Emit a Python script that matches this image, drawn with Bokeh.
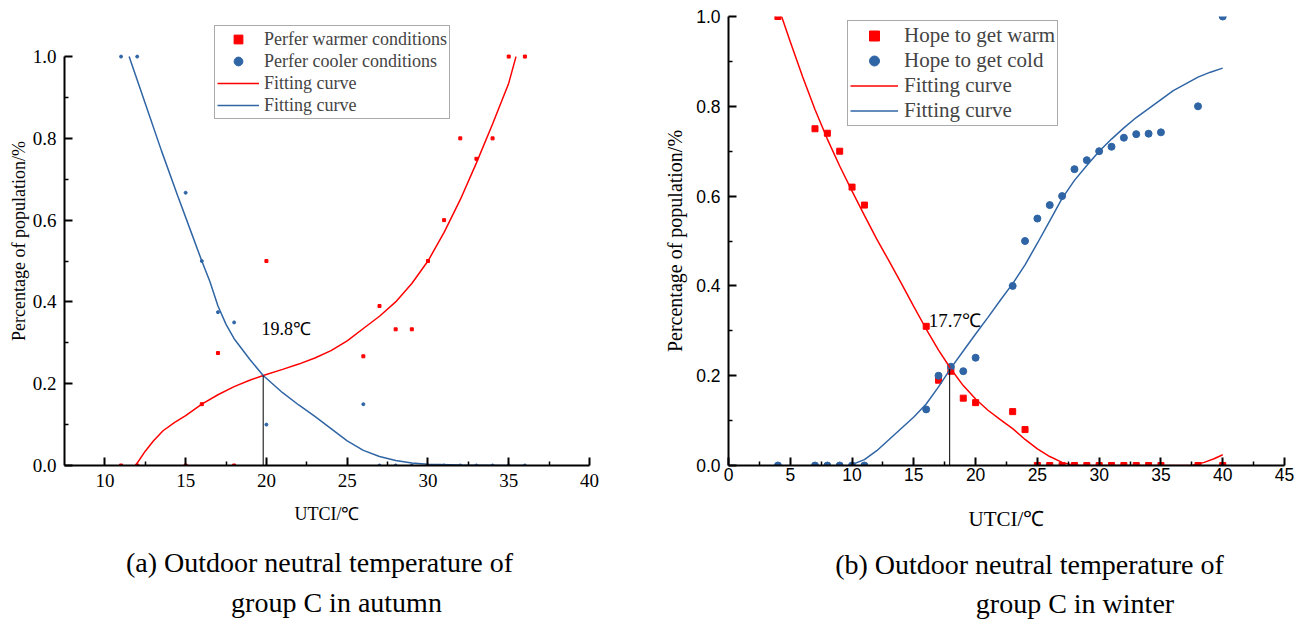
from bokeh.plotting import figure
from bokeh.models import Range1d, FixedTicker, Label, Legend, LegendItem, PrintfTickFormatter
from bokeh.core.properties import value
from bokeh.layouts import row, column
from bokeh.embed import file_html
from bokeh.resources import INLINE

RED = "#ff0000"
BLUE = "#2f65a5"
SERIF = "Liberation Serif"
SANS = "Liberation Sans"

# ---------------- (a) autumn ----------------
a_warm_x = [11, 12, 15, 16, 17, 18, 20, 26, 27, 28, 29, 30, 31, 32, 33, 34, 35, 36]
a_warm_y = [0, 0, 0, 0.15, 0.275, 0, 0.5, 0.267, 0.39, 0.333, 0.333, 0.5, 0.6, 0.8, 0.75, 0.8, 1.0, 1.0]
a_cool_x = [11, 12, 15, 16, 17, 18, 20, 26, 27, 28, 29, 30, 31, 32, 33, 34, 35, 36]
a_cool_y = [1.0, 1.0, 0.667, 0.5, 0.375, 0.35, 0.1, 0.15, 0, 0, 0, 0, 0, 0, 0, 0, 0, 0]
a_fit_warm_x = [11.9, 12.5, 13, 13.6, 14.3, 15, 16, 17, 18, 19, 19.8, 21, 22, 23, 24, 25, 26, 27, 28, 29, 30, 31, 32, 33, 34, 35, 35.45]
a_fit_warm_y = [0.0, 0.035, 0.06, 0.085, 0.105, 0.122, 0.15, 0.173, 0.193, 0.209, 0.22, 0.235, 0.248, 0.263, 0.281, 0.305, 0.335, 0.365, 0.40, 0.445, 0.5, 0.57, 0.65, 0.74, 0.835, 0.935, 1.0]
a_fit_cool_x = [11.5, 12.5, 13.5, 14.5, 15.3, 16, 16.5, 17, 17.5, 18, 19, 19.8, 21, 22, 23, 24, 25, 26, 27, 28, 29, 30, 32, 36]
a_fit_cool_y = [1.0, 0.885, 0.77, 0.66, 0.575, 0.5, 0.45, 0.39, 0.345, 0.31, 0.258, 0.22, 0.178, 0.148, 0.12, 0.09, 0.06, 0.037, 0.022, 0.012, 0.006, 0.003, 0.001, 0.0]
a_cross_x = [19.8]
a_cross_y = [0.22]
a_x_ticks = [10, 15, 20, 25, 30, 35, 40]
a_x_minor = [12.5, 17.5, 22.5, 27.5, 32.5, 37.5]

# ---------------- (b) winter ----------------
b_warm_x = [4, 7, 8, 9, 10, 11, 16, 17, 18, 19, 20, 23, 24, 25, 26, 27, 28, 29, 30, 31, 32, 33, 34, 35, 38, 40]
b_warm_y = [1.0, 0.75, 0.74, 0.70, 0.62, 0.58, 0.31, 0.19, 0.21, 0.15, 0.14, 0.12, 0.08, 0, 0, 0, 0, 0, 0, 0, 0, 0, 0, 0, 0, 0]
b_cold_x = [4, 7, 8, 9, 10, 11, 16, 17, 18, 19, 20, 23, 24, 25, 26, 27, 28, 29, 30, 31, 32, 33, 34, 35, 38, 40]
b_cold_y = [0, 0, 0, 0, 0, 0, 0.125, 0.20, 0.22, 0.21, 0.24, 0.40, 0.50, 0.55, 0.58, 0.60, 0.66, 0.68, 0.70, 0.71, 0.73, 0.738, 0.739, 0.742, 0.80, 1.0]
b_fit_warm_x = [4.3, 5, 6, 7, 8, 9, 10, 11, 12, 13, 14, 15, 16, 17, 18, 19, 20, 21, 22, 23, 24, 25, 26, 27, 28, 37.5, 38.5, 39.3, 40]
b_fit_warm_y = [1.0, 0.944, 0.866, 0.793, 0.727, 0.667, 0.611, 0.557, 0.504, 0.455, 0.405, 0.354, 0.304, 0.257, 0.215, 0.178, 0.148, 0.123, 0.102, 0.082, 0.058, 0.037, 0.02, 0.007, 0.0, 0.0, 0.007, 0.015, 0.024]
b_fit_cold_x = [9.8, 11, 12, 13, 14, 15, 16, 17, 18, 19, 20, 21, 22, 23, 24, 25, 26, 27, 28, 29, 30, 31, 32, 33, 34, 35, 36, 37, 38, 39, 40]
b_fit_cold_y = [0.0, 0.013, 0.033, 0.058, 0.083, 0.108, 0.137, 0.175, 0.217, 0.255, 0.293, 0.33, 0.368, 0.405, 0.447, 0.495, 0.545, 0.595, 0.635, 0.668, 0.70, 0.727, 0.752, 0.775, 0.795, 0.815, 0.835, 0.85, 0.865, 0.876, 0.885]
b_cross_x = [17.9]
b_cross_y = [0.215]
b_x_ticks = [0, 5, 10, 15, 20, 25, 30, 35, 40, 45]
b_x_minor = [2.5, 7.5, 12.5, 17.5, 22.5, 27.5, 32.5, 37.5, 42.5]

y_ticks = [0.0, 0.2, 0.4, 0.6, 0.8, 1.0]
y_minor = [0.1, 0.3, 0.5, 0.7, 0.9]

captions = ["(a) Outdoor neutral temperature of", "group C in autumn",
            "(b) Outdoor neutral temperature of", "group C in winter"]


def style_axes(p, tick_font, tick_size, xlabel_size, ylabel_size, x_standoff, y_standoff,
               xlabel_standoff, ylabel_standoff):
    p.xgrid.visible = False
    p.ygrid.visible = False
    for ax in (p.xaxis[0], p.yaxis[0]):
        ax.axis_line_width = 2
        ax.axis_line_color = "black"
        ax.major_tick_in = 8
        ax.major_tick_out = 0
        ax.minor_tick_in = 4
        ax.minor_tick_out = 0
        ax.major_tick_line_width = 2
        ax.minor_tick_line_width = 1.5
        ax.major_label_text_font = tick_font
        ax.major_label_text_font_size = tick_size
        ax.major_label_text_color = "black"
        ax.axis_label_text_font = SERIF
        ax.axis_label_text_font_style = "normal"
        ax.axis_label_text_color = "black"
    p.yaxis[0].formatter = PrintfTickFormatter(format="%.1f")
    p.xaxis[0].axis_label_text_font_size = xlabel_size
    p.yaxis[0].axis_label_text_font_size = ylabel_size
    p.xaxis[0].major_label_standoff = x_standoff
    p.yaxis[0].major_label_standoff = y_standoff
    p.xaxis[0].axis_label_standoff = xlabel_standoff
    p.yaxis[0].axis_label_standoff = ylabel_standoff


# ---------------- figure (a) ----------------
p1 = figure(frame_width=525, frame_height=449, x_range=Range1d(7.5, 40), y_range=Range1d(0, 1.098),
            output_backend="svg", toolbar_location=None, min_border_left=64, min_border_right=51,
            min_border_top=16, min_border_bottom=75, outline_line_color=None)
p1.xaxis.axis_label = "UTCI/\u2103"
p1.yaxis.axis_label = "Percentage of population/%"
p1.xaxis.ticker = FixedTicker(ticks=a_x_ticks, minor_ticks=a_x_minor)
p1.yaxis.ticker = FixedTicker(ticks=y_ticks, minor_ticks=y_minor)
p1.xaxis.bounds = (7.5, 40)
p1.yaxis.bounds = (0, 1)
style_axes(p1, SERIF, "19px", "18px", "18px", 8, 8, 14, 1)

r1a = p1.scatter(a_warm_x, a_warm_y, marker="square", size=3, color=RED)
r1b = p1.scatter(a_cool_x, a_cool_y, marker="circle", size=3, color=BLUE)
r1c = p1.line(a_fit_warm_x, a_fit_warm_y, color=RED, line_width=1.5)
r1d = p1.line(a_fit_cool_x, a_fit_cool_y, color=BLUE, line_width=1.5)
p1.segment(x0=a_cross_x, y0=[0], x1=a_cross_x, y1=a_cross_y, color="black", line_width=1)
p1.add_layout(Label(x=19.7, y=0.334, text="19.8\u2103", text_font=SERIF, text_font_size="18px",
                    text_baseline="middle", text_align="left", text_color="black"))

leg1 = Legend(items=[LegendItem(label="Perfer warmer conditions", renderers=[r1a]),
                     LegendItem(label="Perfer cooler conditions", renderers=[r1b]),
                     LegendItem(label="Fitting curve", renderers=[r1c]),
                     LegendItem(label="Fitting curve", renderers=[r1d])],
              location=(150, 346), label_text_font=SERIF, label_text_font_size="18px",
              glyph_width=42, glyph_height=22, label_height=22, label_standoff=5, spacing=0,
              padding=2, margin=0, border_line_color="#555555", border_line_width=1,
              background_fill_color="white", background_fill_alpha=1)
p1.add_layout(leg1)

# ---------------- figure (b) ----------------
p2 = figure(frame_width=556, frame_height=449, x_range=Range1d(0, 45), y_range=Range1d(0, 1),
            output_backend="svg", toolbar_location=None, min_border_left=88, min_border_right=12,
            min_border_top=16, min_border_bottom=75, outline_line_color=None)
p2.xaxis.axis_label = "UTCI/\u2103"
p2.yaxis.axis_label = "Percentage of population/%"
p2.xaxis.ticker = FixedTicker(ticks=b_x_ticks, minor_ticks=b_x_minor)
p2.yaxis.ticker = FixedTicker(ticks=y_ticks, minor_ticks=y_minor)
style_axes(p2, SANS, "17.5px", "21px", "20px", 2, 8, 23, 7)

r2a = p2.scatter(b_warm_x, b_warm_y, marker="square", size=6, color=RED)
r2b = p2.scatter(b_cold_x, b_cold_y, marker="circle", size=7, color=BLUE)
r2c = p2.line(b_fit_warm_x, b_fit_warm_y, color=RED, line_width=1.5)
r2d = p2.line(b_fit_cold_x, b_fit_cold_y, color=BLUE, line_width=1.5)
p2.segment(x0=b_cross_x, y0=[0], x1=b_cross_x, y1=b_cross_y, color="black", line_width=1)
p2.add_layout(Label(x=16.2, y=0.323, text="17.7\u2103", text_font=SERIF, text_font_size="19px",
                    text_baseline="middle", text_align="left", text_color="black"))

leg2 = Legend(items=[LegendItem(label="Hope to get warm", renderers=[r2a]),
                     LegendItem(label="Hope to get cold", renderers=[r2b]),
                     LegendItem(label="Fitting curve", renderers=[r2c]),
                     LegendItem(label="Fitting curve", renderers=[r2d])],
              location=(119, 339), label_text_font=SERIF, label_text_font_size="21px",
              glyph_width=48, glyph_height=25, label_height=25, label_standoff=6, spacing=0,
              padding=2, margin=0, border_line_color="#555555", border_line_width=1,
              background_fill_color="white", background_fill_alpha=1)
p2.add_layout(leg2)

# ---------------- caption strip ----------------
p3 = figure(width=1296, height=80, x_range=Range1d(0, 1296), y_range=Range1d(620, 540),
            output_backend="svg", toolbar_location=None, min_border=0, outline_line_color=None)
p3.axis.visible = False
p3.grid.visible = False
p3.text(x=[319, 336, 1029, 1074.5], y=[562, 602, 564, 603], text=captions,
        text_font=value(SERIF), text_font_size="28px", text_align="center",
        text_baseline="middle", text_color="black")

layout = column(row(p1, p2), p3)
open("out.html", "w").write(file_html(layout, INLINE))
